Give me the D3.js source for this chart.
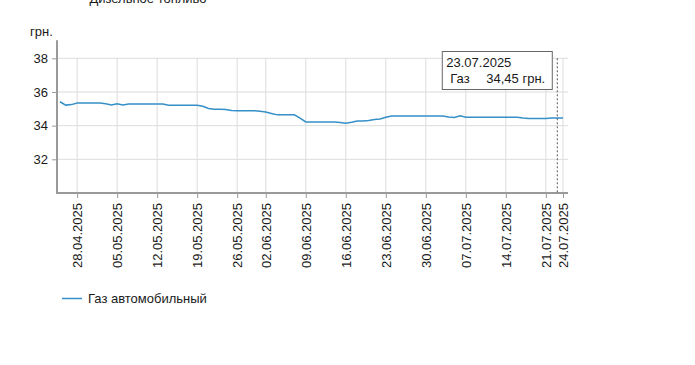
<!DOCTYPE html>
<html><head><meta charset="utf-8">
<script src="https://cdn.jsdelivr.net/npm/d3@7"></script>
<style>
html,body{margin:0;padding:0;background:#fff;}
svg{display:block;font-family:"Liberation Sans",Arial,sans-serif;}
</style></head>
<body>
<svg id="c" width="695" height="365"></svg>
<script>
const title = "Дизельное топливо";
const unitLabel = "грн.";
const seriesName = "Газ автомобильный";
const tooltipShort = "Газ";
const tooltipDate = "23.07.2025";

const dates = [
"25.04.2025","26.04.2025","27.04.2025","28.04.2025","29.04.2025","30.04.2025",
"01.05.2025","02.05.2025","03.05.2025","04.05.2025","05.05.2025","06.05.2025","07.05.2025","08.05.2025","09.05.2025","10.05.2025",
"11.05.2025","12.05.2025","13.05.2025","14.05.2025","15.05.2025","16.05.2025","17.05.2025","18.05.2025","19.05.2025","20.05.2025",
"21.05.2025","22.05.2025","23.05.2025","24.05.2025","25.05.2025","26.05.2025","27.05.2025","28.05.2025","29.05.2025","30.05.2025",
"02.06.2025","03.06.2025","04.06.2025","05.06.2025","06.06.2025","07.06.2025","08.06.2025","09.06.2025","10.06.2025","11.06.2025",
"12.06.2025","13.06.2025","14.06.2025","15.06.2025","16.06.2025","17.06.2025","18.06.2025","19.06.2025","20.06.2025","21.06.2025",
"22.06.2025","23.06.2025","24.06.2025","25.06.2025","26.06.2025","27.06.2025","28.06.2025","29.06.2025","30.06.2025",
"01.07.2025","02.07.2025","03.07.2025","04.07.2025","05.07.2025","06.07.2025","07.07.2025","08.07.2025","09.07.2025","10.07.2025",
"11.07.2025","12.07.2025","13.07.2025","14.07.2025","15.07.2025","16.07.2025","17.07.2025","18.07.2025","19.07.2025","20.07.2025",
"21.07.2025","22.07.2025","23.07.2025","24.07.2025"
];

const gasValues = [
35.42,35.22,35.25,35.34,35.34,35.34,
35.34,35.34,35.30,35.23,35.30,35.23,35.29,35.29,35.29,35.29,
35.29,35.29,35.29,35.21,35.21,35.21,35.21,35.21,35.21,35.15,
35.02,34.97,34.97,34.96,34.90,34.89,34.89,34.89,34.89,34.86,
34.81,34.72,34.64,34.64,34.64,34.64,34.45,34.22,34.22,34.22,
34.22,34.22,34.22,34.18,34.14,34.20,34.28,34.28,34.30,34.36,
34.40,34.50,34.57,34.57,34.57,34.57,34.57,34.57,34.57,
34.57,34.57,34.57,34.52,34.48,34.59,34.50,34.50,34.50,34.50,
34.50,34.50,34.50,34.50,34.50,34.50,34.45,34.42,34.42,34.42,
34.42,34.45,34.45,34.45
];

const xTickLabels = ["28.04.2025","05.05.2025","12.05.2025","19.05.2025","26.05.2025","02.06.2025","09.06.2025",
"16.06.2025","23.06.2025","30.06.2025","07.07.2025","14.07.2025","21.07.2025","24.07.2025"];
const yTicks = [32,34,36,38];
const yDomain = [30,38];

const lineColor = "#3590c8";
const axisColor = "#9a9a9a";
const gridColor = "#dcdcdc";
const textColor = "#1a1a1a";

const svg = d3.select("#c");
const x = d3.scalePoint().domain(dates).range([60, 563]);
const y = d3.scaleLinear().domain(yDomain).range([193, 58.3]);
const axisLeftX = 57, axisRightX = 568;

// title (cut off at top)
svg.append("text").attr("x", 148).attr("y", 3).attr("text-anchor","middle")
  .attr("font-size", 13).attr("fill", textColor).text(title);

// horizontal grid
svg.append("g").selectAll("line").data(yTicks).join("line")
  .attr("x1", axisLeftX).attr("x2", axisRightX)
  .attr("y1", d => y(d)).attr("y2", d => y(d))
  .attr("stroke", gridColor).attr("stroke-width", 1);

// vertical grid
svg.append("g").selectAll("line").data(xTickLabels).join("line")
  .attr("x1", d => x(d)).attr("x2", d => x(d))
  .attr("y1", y(yDomain[1])).attr("y2", y(yDomain[0]))
  .attr("stroke", gridColor).attr("stroke-width", 1);

// y axis
const yAxis = svg.append("g").attr("transform", `translate(${axisLeftX},0)`)
  .call(d3.axisLeft(y).tickValues(yTicks).tickSize(5).tickPadding(4));
yAxis.select(".domain").remove();
yAxis.selectAll(".tick line").attr("stroke", axisColor);
yAxis.selectAll(".tick text").attr("font-size", 13).attr("fill", textColor)
  .attr("font-family", '"Liberation Sans",Arial,sans-serif');
svg.append("line").attr("x1", axisLeftX).attr("x2", axisLeftX)
  .attr("y1", y(yDomain[1]) - 18).attr("y2", y(yDomain[0]))
  .attr("stroke", axisColor).attr("stroke-width", 2);

// x axis
const xAxis = svg.append("g").attr("transform", `translate(0,${y(yDomain[0])})`)
  .call(d3.axisBottom(x).tickValues(xTickLabels).tickSize(5));
xAxis.select(".domain").remove();
xAxis.selectAll(".tick line").attr("stroke", axisColor);
xAxis.selectAll(".tick text")
  .attr("font-size", 13).attr("fill", textColor)
  .attr("font-family", '"Liberation Sans",Arial,sans-serif')
  .attr("transform", "rotate(-90)")
  .attr("text-anchor", "end")
  .attr("x", -10).attr("y", 0).attr("dy", "0.35em");
svg.append("line").attr("x1", axisLeftX - 1).attr("x2", axisRightX)
  .attr("y1", y(yDomain[0])).attr("y2", y(yDomain[0]))
  .attr("stroke", axisColor).attr("stroke-width", 2);

// unit label
svg.append("text").attr("x", 30).attr("y", 36).attr("font-size", 13)
  .attr("fill", textColor).text(unitLabel);

// series line
const data = dates.map((d,i) => ({d, v: gasValues[i]}));
svg.append("path").datum(data)
  .attr("fill","none").attr("stroke", lineColor).attr("stroke-width", 1.5)
  .attr("d", d3.line().x(p => x(p.d)).y(p => y(p.v)));

// hover marker + tooltip
const hx = x(tooltipDate);
const hv = gasValues[dates.indexOf(tooltipDate)];
svg.append("line").attr("x1", hx).attr("x2", hx)
  .attr("y1", y(yDomain[1])).attr("y2", y(yDomain[0]))
  .attr("stroke", "#555").attr("stroke-width", 1).attr("stroke-dasharray", "2,2");

const boxW = 110, boxH = 38;
const bx = hx - 5.5 - boxW, by = 51;
svg.append("rect").attr("x", bx + 0.5).attr("y", by + 0.5).attr("width", boxW).attr("height", boxH)
  .attr("fill", "#fff").attr("stroke", "#666").attr("stroke-width", 1);
svg.append("text").attr("x", bx + 4.5).attr("y", by + 16).attr("font-size", 13)
  .attr("fill", textColor).text(tooltipDate);
svg.append("text").attr("x", bx + 8.5).attr("y", by + 32).attr("font-size", 13)
  .attr("fill", textColor).text(tooltipShort);
svg.append("text").attr("x", bx + 44.5).attr("y", by + 32).attr("font-size", 13)
  .attr("fill", textColor).text(d3.format(".2f")(hv).replace(".", ",") + " " + unitLabel);

// legend
svg.append("line").attr("x1", 62).attr("x2", 82).attr("y1", 298.5).attr("y2", 298.5)
  .attr("stroke", lineColor).attr("stroke-width", 1.5);
svg.append("text").attr("x", 88).attr("y", 302.5).attr("font-size", 13)
  .attr("fill", textColor).text(seriesName);
</script>
</body></html>
